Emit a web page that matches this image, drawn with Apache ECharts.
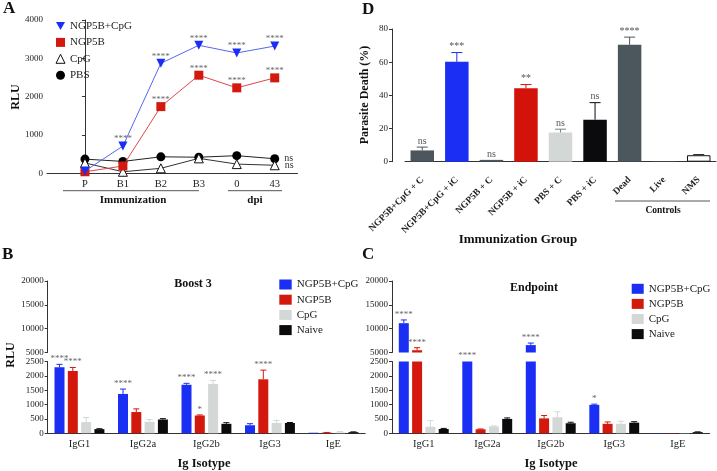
<!DOCTYPE html>
<html><head><meta charset="utf-8">
<script src="https://cdn.jsdelivr.net/npm/echarts@6/dist/echarts.min.js"></script>
<style>html,body{margin:0;padding:0;background:#fff}#c{width:717px;height:471px}</style>
</head><body><div id="c"></div>
<script>
// ---------- Panel A data ----------
const aTimepoints = ['P', 'B1', 'B2', 'B3', '0', '43'];
const aNGP5BCpG = [60, 710, 2870, 3340, 3140, 3320];
const aNGP5B = [40, 190, 1740, 2560, 2230, 2490];
const aCpG = [270, 40, 130, 390, 240, 210];
const aPBS = [370, 310, 430, 420, 460, 380];
const aSigNGP5BCpG = ['', '****', '****', '****', '****', '****'];
const aSigNGP5B = ['', '', '****', '****', '****', '****'];
const aSigCpG = ['', '', '', '', '', 'ns'];
const aSigPBS = ['', '', '', '', '', 'ns'];

// ---------- Panel D data ----------
const dGroups = ['NGP5B+CpG + C', 'NGP5B+CpG + iC', 'NGP5B + C', 'NGP5B + iC', 'PBS + C', 'PBS + iC', 'Dead', 'Live', 'NMS'];
const dDeath = [6.8, 60.2, 1.1, 44.3, 17.6, 25.3, 70.5, 0.3, 3.9];
const dSem = [2.0, 5.6, 0, 2.2, 2.0, 10.3, 4.6, 0, 0.4];
const dSig = ['ns', '***', 'ns', '**', 'ns', 'ns', '****', '', ''];

// ---------- Panels B & C data ----------
const isotypes = ['IgG1', 'IgG2a', 'IgG2b', 'IgG3', 'IgE'];
const groups = ['NGP5B+CpG', 'NGP5B', 'CpG', 'Naive'];
// Boost 3
const b3NGP5BCpG = [2300, 1370, 1690, 280, 20];
const b3NGP5B = [2170, 740, 620, 1880, 25];
const b3CpG = [390, 400, 1720, 360, 30];
const b3Naive = [145, 480, 330, 360, 40];
const b3SemNGP5BCpG = [100, 170, 50, 55, 0];
const b3SemNGP5B = [120, 110, 20, 320, 5];
const b3SemCpG = [160, 80, 120, 90, 30];
const b3SemNaive = [15, 30, 40, 15, 10];
const b3SigNGP5BCpG = ['****', '****', '****', '', ''];
const b3SigNGP5B = ['****', '', '*', '****', ''];
const b3SigCpG = ['', '', '****', '', ''];
const b3SigNaive = ['', '', '', '', ''];
// Endpoint
const epNGP5BCpG = [11150, 3600, 6550, 990, 10];
const epNGP5B = [5480, 140, 520, 330, 10];
const epCpG = [230, 240, 560, 330, 8];
const epNaive = [150, 500, 350, 370, 40];
const epSemNGP5BCpG = [680, 0, 430, 25, 0];
const epSemNGP5B = [530, 10, 100, 65, 0];
const epSemCpG = [210, 20, 190, 90, 0];
const epSemNaive = [20, 35, 35, 35, 10];
const epSigNGP5BCpG = ['****', '****', '****', '*', ''];
const epSigNGP5B = ['****', '', '', '', ''];
const epSigCpG = ['', '', '', '', ''];
const epSigNaive = ['', '', '', '', ''];

// ---------- styling ----------
const FONT = '"Liberation Serif", "Times New Roman", serif';
const FAM = 'Liberation Serif';
const gColors = ['#1b2ef4', '#d3190d', '#d3d8d6', '#0b0b0e'];
const dColors = ['#4b565d', '#1b2ef4', '#4b565d', '#d3120a', '#d3d8d6', '#0b0b0e', '#4b565d', '#4b565d', '#ffffff'];
const AX = '#333';

const chart = echarts.init(document.getElementById('c'));

function bcItems(means, sems, sigs) {
  const items = [];
  for (let g = 0; g < groups.length; g++)
    for (let c = 0; c < isotypes.length; c++)
      items.push({cat: c, g: g, mean: means[g][c], sem: sems[g][c], sig: sigs[g][c]});
  return items;
}

function bcErr(items, xi, yi, lo, hi, isUpper) {
  return {
    type: 'custom', xAxisIndex: xi, yAxisIndex: yi, silent: true, z: 6,
    data: items.map(it => [it.cat, Math.min(Math.max(it.mean, lo), hi)]),
    renderItem: (params, api) => {
      const it = items[params.dataIndex];
      const cx = api.coord([it.cat, lo])[0] + (it.g - 1.5) * 13.3;
      const top = it.mean + it.sem;
      const ch = [];
      const inRange = isUpper ? it.mean >= lo : it.mean <= hi;
      if (inRange && it.sem > 0) {
        const y0 = api.coord([it.cat, it.mean])[1];
        const y1 = api.coord([it.cat, Math.min(top, hi)])[1];
        const col = gColors[it.g];
        ch.push({type: 'line', shape: {x1: cx, y1: y0, x2: cx, y2: y1}, style: {stroke: col, lineWidth: 1}});
        ch.push({type: 'line', shape: {x1: cx - 3, y1: y1, x2: cx + 3, y2: y1}, style: {stroke: col, lineWidth: 1}});
      }
      const showSig = isUpper ? top >= lo : top < 5000;
      if (it.sig && showSig) {
        const ys = api.coord([it.cat, Math.min(top, hi)])[1];
        ch.push({type: 'text', x: cx, y: ys - 1,
          style: {text: it.sig, fill: '#666', font: '9px ' + FONT, align: 'center', verticalAlign: 'bottom', textAlign: 'center', textVerticalAlign: 'bottom'}});
      }
      return {type: 'group', children: ch};
    }
  };
}

const b3Means = [b3NGP5BCpG, b3NGP5B, b3CpG, b3Naive];
const b3Sems = [b3SemNGP5BCpG, b3SemNGP5B, b3SemCpG, b3SemNaive];
const b3Sigs = [b3SigNGP5BCpG, b3SigNGP5B, b3SigCpG, b3SigNaive];
const epMeans = [epNGP5BCpG, epNGP5B, epCpG, epNaive];
const epSems = [epSemNGP5BCpG, epSemNGP5B, epSemCpG, epSemNaive];
const epSigs = [epSigNGP5BCpG, epSigNGP5B, epSigCpG, epSigNaive];
const b3Items = bcItems(b3Means, b3Sems, b3Sigs);
const epItems = bcItems(epMeans, epSems, epSigs);

function barSet(means, xi, yi) {
  return groups.map((name, g) => ({
    type: 'bar', name: name, xAxisIndex: xi, yAxisIndex: yi,
    data: means[g], barWidth: 10, barGap: '33%', clip: true,
    itemStyle: {color: gColors[g]}, silent: true
  }));
}

function aLine(name, vals, sigs, lineColor, symbol, rot, itemStyle, pos, z) {
  return {
    type: 'line', name: name, xAxisIndex: 0, yAxisIndex: 0,
    data: vals.map((v, i) => [i, v]), symbol: symbol, symbolSize: 9, symbolRotate: rot,
    lineStyle: {color: lineColor, width: 1}, itemStyle: itemStyle, z: z, silent: true,
    label: {show: true, position: pos, distance: pos === 'top' ? -2 : 5,
      formatter: p => sigs[p.dataIndex], color: pos === 'top' ? '#666' : '#333',
      fontSize: pos === 'top' ? 9 : 10, fontFamily: FAM}
  };
}

// D error bars
const dErr = {
  type: 'custom', xAxisIndex: 5, yAxisIndex: 5, silent: true, z: 6,
  data: dDeath.map((v, i) => [i, v]),
  renderItem: (params, api) => {
    const i = params.dataIndex;
    const v = dDeath[i], s = dSem[i];
    const p0 = api.coord([i, v]);
    const p1 = api.coord([i, v + s]);
    const col = i === 8 ? '#222' : (i === 4 ? '#7a8280' : dColors[i]);
    const ch = [];
    if (s > 0) {
      ch.push({type: 'line', shape: {x1: p0[0], y1: p0[1], x2: p0[0], y2: p1[1]}, style: {stroke: col, lineWidth: 1}});
      ch.push({type: 'line', shape: {x1: p0[0] - 5.5, y1: p1[1], x2: p0[0] + 5.5, y2: p1[1]}, style: {stroke: col, lineWidth: 1}});
    }
    if (dSig[i]) {
      ch.push({type: 'text', x: p0[0], y: p1[1] - 1,
        style: {text: dSig[i], fill: '#555', font: '10px ' + FONT, align: 'center', verticalAlign: 'bottom', textAlign: 'center', textVerticalAlign: 'bottom'}});
    }
    return {type: 'group', children: ch};
  }
};

const plain = v => String(v);
const catLabel = {fontFamily: FAM, fontSize: 10.5, color: '#222', margin: 5};
const valLabel = {fontFamily: FAM, fontSize: 9, color: '#222', margin: 4, formatter: plain};
const tick = {show: true, length: 3, lineStyle: {color: AX}};
const line = {show: true, lineStyle: {color: AX, width: 1}};

const legText = {fontFamily: FAM, fontSize: 11, color: '#222'};
const legendCommon = {orient: 'vertical', padding: 0, selectedMode: false, textStyle: legText};
const squareLegend = groups.map((n, g) => ({name: n, icon: 'rect', itemStyle: {color: gColors[g], borderWidth: 0}, textStyle: legText}));

const option = {
  animation: false,
  textStyle: {fontFamily: FAM},
  grid: [
    {left: 47, top: 20, width: 250.5, height: 153.3},
    {left: 47.7, top: 361.5, width: 317.5, height: 71.8},
    {left: 47.7, top: 281, width: 317.5, height: 71.5},
    {left: 392, top: 361.5, width: 317.5, height: 71.8},
    {left: 392, top: 281, width: 317.5, height: 71.5},
    {left: 405, top: 29, width: 311, height: 132.7}
  ],
  xAxis: [
    {gridIndex: 0, type: 'value', min: -1, max: 5.6, interval: 1, axisLine: line, axisTick: {show: false}, splitLine: {show: false},
      axisLabel: Object.assign({}, catLabel, {formatter: v => (aTimepoints[v] !== undefined ? aTimepoints[v] : ''), showMinLabel: false, showMaxLabel: false, margin: 5})},
    {gridIndex: 1, type: 'category', data: isotypes, axisLine: line, axisTick: {show: false}, axisLabel: catLabel},
    {gridIndex: 2, type: 'category', data: isotypes, show: false},
    {gridIndex: 3, type: 'category', data: isotypes, axisLine: line, axisTick: {show: false}, axisLabel: catLabel},
    {gridIndex: 4, type: 'category', data: isotypes, show: false},
    {gridIndex: 5, type: 'category', data: dGroups, offset: 11.6, axisLine: line, axisTick: {show: false},
      axisLabel: {fontFamily: FAM, fontSize: 9.5, fontWeight: 'bold', color: '#222', rotate: 45, interval: 0, margin: 5}}
  ],
  yAxis: [
    {gridIndex: 0, type: 'value', min: 0, max: 4000, interval: 1000, axisLine: line, axisTick: tick, splitLine: {show: false}, axisLabel: valLabel},
    {gridIndex: 1, type: 'value', min: 0, max: 2500, interval: 500, axisLine: line, axisTick: tick, splitLine: {show: false}, axisLabel: valLabel},
    {gridIndex: 2, type: 'value', min: 5000, max: 20000, interval: 5000, axisLine: line, axisTick: tick, splitLine: {show: false}, axisLabel: valLabel},
    {gridIndex: 3, type: 'value', min: 0, max: 2500, interval: 500, axisLine: line, axisTick: tick, splitLine: {show: false}, axisLabel: valLabel},
    {gridIndex: 4, type: 'value', min: 5000, max: 20000, interval: 5000, axisLine: line, axisTick: tick, splitLine: {show: false}, axisLabel: valLabel},
    {gridIndex: 5, type: 'value', min: 0, max: 80, interval: 20, offset: 13, axisLine: line, axisTick: tick, splitLine: {show: false}, axisLabel: valLabel}
  ],
  legend: [
    Object.assign({}, legendCommon, {left: 55.5, top: 20.5, itemWidth: 9, itemHeight: 9, itemGap: 5.4,
      data: [
        {name: 'NGP5B+CpG', icon: 'path://M0,0L10,0L5,9Z', itemStyle: {color: '#1b2ef4', borderWidth: 0}, textStyle: legText},
        {name: 'NGP5B', icon: 'rect', itemStyle: {color: '#d3190d', borderWidth: 0}, textStyle: legText},
        {name: 'CpG', icon: 'triangle', itemStyle: {color: '#ffffff', borderColor: '#111', borderWidth: 1}, textStyle: legText},
        {name: 'PBS', icon: 'circle', itemStyle: {color: '#000', borderWidth: 0}, textStyle: legText}
      ]}),
    Object.assign({}, legendCommon, {left: 279.3, top: 279, itemWidth: 12.4, itemHeight: 10, itemGap: 4.2, data: squareLegend}),
    Object.assign({}, legendCommon, {left: 631.7, top: 283.3, itemWidth: 12, itemHeight: 10, itemGap: 4.1, data: squareLegend})
  ],
  series: [
    aLine('PBS', aPBS, aSigPBS, '#222', 'circle', 0, {color: '#000'}, 'right', 3),
    aLine('CpG', aCpG, aSigCpG, '#333', 'triangle', 0, {color: '#fff', borderColor: '#111', borderWidth: 1}, 'right', 3),
    aLine('NGP5B', aNGP5B, aSigNGP5B, '#e0464a', 'rect', 0, {color: '#d3190d'}, 'top', 4),
    aLine('NGP5B+CpG', aNGP5BCpG, aSigNGP5BCpG, '#5566ee', 'triangle', 180, {color: '#1b2ef4'}, 'top', 5),
    ...barSet(b3Means, 1, 1),
    ...barSet(b3Means, 2, 2),
    ...barSet(epMeans, 3, 3),
    ...barSet(epMeans, 4, 4),
    bcErr(b3Items, 1, 1, 0, 2500, false),
    bcErr(b3Items, 2, 2, 5000, 20000, true),
    bcErr(epItems, 3, 3, 0, 2500, false),
    bcErr(epItems, 4, 4, 5000, 20000, true),
    {type: 'bar', name: 'D', xAxisIndex: 5, yAxisIndex: 5, barWidth: 23.5, silent: true,
      data: dDeath.map((v, i) => ({value: v, itemStyle: {color: dColors[i], borderColor: i === 8 ? '#111' : dColors[i], borderWidth: i === 8 ? 1 : 0}}))},
    dErr
  ],
  graphic: [
    {type: 'text', left: 3, top: 0, style: {text: 'A', font: 'bold 17px ' + FONT, fill: '#111'}},
    {type: 'text', left: 362, top: 1, style: {text: 'D', font: 'bold 17px ' + FONT, fill: '#111'}},
    {type: 'text', left: 2, top: 246, style: {text: 'B', font: 'bold 17px ' + FONT, fill: '#111'}},
    {type: 'text', left: 362, top: 246, style: {text: 'C', font: 'bold 17px ' + FONT, fill: '#111'}},
    {type: 'text', x: 16, y: 97, rotation: Math.PI / 2, style: {text: 'RLU', font: 'bold 12px ' + FONT, fill: '#111', align: 'center', verticalAlign: 'middle'}},
    {type: 'line', shape: {x1: 63, y1: 190.7, x2: 199, y2: 190.7}, style: {stroke: '#555', lineWidth: 1}},
    {type: 'line', shape: {x1: 228, y1: 190.7, x2: 282, y2: 190.7}, style: {stroke: '#555', lineWidth: 1}},
    {type: 'text', x: 133, y: 200.5, style: {text: 'Immunization', font: 'bold 11px ' + FONT, fill: '#111', align: 'center', verticalAlign: 'middle'}},
    {type: 'text', x: 255, y: 200.5, style: {text: 'dpi', font: 'bold 11px ' + FONT, fill: '#111', align: 'center', verticalAlign: 'middle'}},
    {type: 'text', x: 365, y: 95, rotation: Math.PI / 2, style: {text: 'Parasite Death (%)', font: 'bold 12px ' + FONT, fill: '#111', align: 'center', verticalAlign: 'middle'}},
    {type: 'line', shape: {x1: 615, y1: 201, x2: 710, y2: 201}, style: {stroke: '#555', lineWidth: 1}},
    {type: 'text', x: 663, y: 210.7, style: {text: 'Controls', font: 'bold 9.5px ' + FONT, fill: '#111', align: 'center', verticalAlign: 'middle'}},
    {type: 'text', x: 518, y: 240, style: {text: 'Immunization Group', font: 'bold 13px ' + FONT, fill: '#111', align: 'center', verticalAlign: 'middle'}},
    {type: 'text', x: 193, y: 284.3, style: {text: 'Boost 3', font: 'bold 12px ' + FONT, fill: '#111', align: 'center', verticalAlign: 'middle'}},
    {type: 'text', x: 534, y: 288.3, style: {text: 'Endpoint', font: 'bold 12px ' + FONT, fill: '#111', align: 'center', verticalAlign: 'middle'}},
    {type: 'text', x: 11, y: 355, rotation: Math.PI / 2, style: {text: 'RLU', font: 'bold 12px ' + FONT, fill: '#111', align: 'center', verticalAlign: 'middle'}},
    {type: 'text', x: 204, y: 464, style: {text: 'Ig Isotype', font: 'bold 12.5px ' + FONT, fill: '#111', align: 'center', verticalAlign: 'middle'}},
    {type: 'text', x: 551, y: 464, style: {text: 'Ig Isotype', font: 'bold 12.5px ' + FONT, fill: '#111', align: 'center', verticalAlign: 'middle'}}
  ]
};
chart.setOption(option);
</script>
</body></html>
